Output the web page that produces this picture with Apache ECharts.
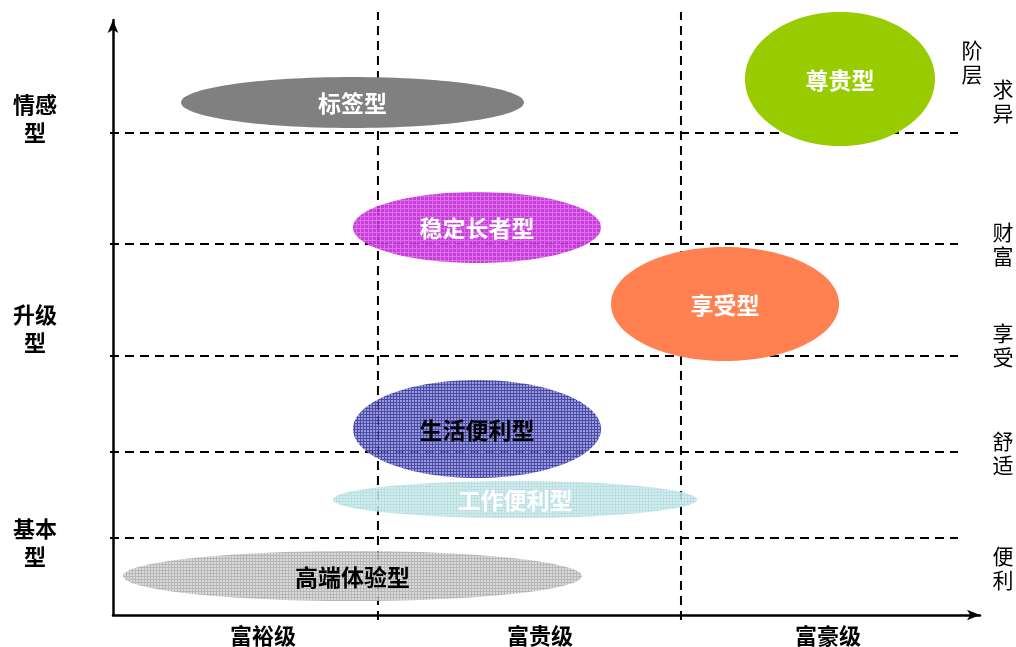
<!DOCTYPE html>
<html>
<head>
<meta charset="utf-8">
<script src="https://cdn.jsdelivr.net/npm/echarts@6/dist/echarts.min.js"></script>
<style>html,body{margin:0;padding:0;background:#fff;}#main{width:1016px;height:647px;}</style>
</head>
<body>
<div id="main"></div>
<script>
// ---- data (abstract units: x 0..100 wealth level, y 0..100 need level) ----
const typeNames = ['标签型', '尊贵型', '稳定长者型', '享受型', '生活便利型', '工作便利型', '高端体验型'];
const xFrom = [7.84, 72.89, 27.68, 57.44, 27.68, 25.37, 1.15];
const xTo   = [47.40, 94.81, 56.29, 83.74, 56.29, 67.36, 54.09];
const yFrom = [81.85, 78.82, 59.16, 42.69, 23.03, 16.30, 2.35];
const yTo   = [90.42, 101.34, 71.09, 61.85, 39.50, 22.52, 10.76];

const levelBounds = [12.94, 27.39, 43.53, 62.35, 81.0];   // horizontal dividers
const wealthBounds = [30.56, 65.51];                       // vertical dividers

const wealthLabels = ['富裕级', '富贵级', '富豪级'];
const wealthLabelX = [17.3, 49.25, 82.47];
const motiveLabels = ['情感\n型', '升级\n型', '基本\n型'];
const motiveLabelY = [83.4, 48.2, 12.1];
const needLabels = ['求\n异', '财\n富', '享\n受', '舒\n适', '便\n利'];
const needLabelY = [86.3, 62.35, 45.4, 27.2, 7.9];
const needTitle = '阶\n层';

// ---- styles ----
function pattern(bg, line, size) {
  const c = document.createElement('canvas');
  c.width = size; c.height = size;
  const g = c.getContext('2d');
  g.fillStyle = bg; g.fillRect(0, 0, size, size);
  g.fillStyle = line; g.fillRect(0, 0, size, 1); g.fillRect(0, 0, 1, size);
  return { image: c, repeat: 'repeat' };
}
const fills = [
  '#808080',
  '#99CC00',
  pattern('#C52CD8', '#D865EA', 4),
  '#FF8050',
  pattern('#8C8CD6', '#33339C', 3),
  pattern('#CFEAEC', '#B2DCE0', 3),
  pattern('#D6D6D6', '#B0B0B0', 3)
];
const opac = [1, 1, 0.92, 1, 0.88, 0.9, 0.9];
const textColors = ['#fff', '#fff', '#fff', '#fff', '#000', '#fff', '#000'];
const CJK = '"Noto Sans CJK SC", sans-serif';

const chart = echarts.init(document.getElementById('main'), null, { renderer: 'canvas' });

const lineData = [];
levelBounds.forEach(v => lineData.push([-0.35, v, 97.46, v]));
wealthBounds.forEach(v => lineData.push([v, -0.84, v, 101.34]));

const ellipseData = typeNames.map((n, i) => [xFrom[i], yFrom[i], xTo[i], yTo[i]]);

const labelData = [];
wealthLabels.forEach((t, i) => labelData.push({ value: [wealthLabelX[i], -3.53], t, k: 'b' }));
motiveLabels.forEach((t, i) => labelData.push({ value: [-9.0, motiveLabelY[i]], t, k: 'l' }));
needLabels.forEach((t, i) => labelData.push({ value: [102.65, needLabelY[i]], t, k: 'r' }));
labelData.push({ value: [99.08, 93.0], t: needTitle, k: 'r' });

chart.setOption({
  animation: false,
  backgroundColor: '#fff',
  grid: { left: 113, right: 36, top: 20, bottom: 32, containLabel: false },
  xAxis: {
    type: 'value', min: 0, max: 100,
    axisLine: { show: true, symbol: ['none', 'arrow'], symbolSize: [8, 13], lineStyle: { color: '#000', width: 2.5 } },
    axisTick: { show: false }, axisLabel: { show: false }, splitLine: { show: false }
  },
  yAxis: {
    type: 'value', min: 0, max: 100,
    axisLine: { show: true, symbol: ['none', 'arrow'], symbolSize: [8, 13], lineStyle: { color: '#000', width: 2.5 } },
    axisTick: { show: false }, axisLabel: { show: false }, splitLine: { show: false }
  },
  series: [
    {
      type: 'custom', z: 1, clip: false,
      data: lineData,
      renderItem: function (params, api) {
        const a = api.coord([api.value(0), api.value(1)]);
        const b = api.coord([api.value(2), api.value(3)]);
        return {
          type: 'line',
          shape: { x1: a[0], y1: a[1], x2: b[0], y2: b[1] },
          style: { stroke: '#000', lineWidth: 2, lineDash: [9, 6] }
        };
      }
    },
    {
      type: 'custom', z: 2, clip: false,
      data: ellipseData,
      renderItem: function (params, api) {
        const i = params.dataIndex;
        const p0 = api.coord([api.value(0), api.value(1)]);
        const p1 = api.coord([api.value(2), api.value(3)]);
        const cx = (p0[0] + p1[0]) / 2, cy = (p0[1] + p1[1]) / 2;
        const rx = Math.abs(p1[0] - p0[0]) / 2, ry = Math.abs(p1[1] - p0[1]) / 2;
        return {
          type: 'group',
          children: [
            { type: 'ellipse', shape: { cx, cy, rx, ry }, style: { fill: fills[i], opacity: opac[i] } },
            { type: 'text', x: cx, y: cy + 1, style: {
                text: typeNames[i], fill: textColors[i], fontSize: 23, fontWeight: 'bold',
                fontFamily: CJK, align: 'center', verticalAlign: 'middle' } }
          ]
        };
      }
    },
    {
      type: 'custom', z: 3, clip: false,
      data: labelData,
      renderItem: function (params, api) {
        const d = labelData[params.dataIndex];
        const p = api.coord([api.value(0), api.value(1)]);
        const bold = d.k !== 'r';
        return {
          type: 'text', x: p[0], y: p[1],
          style: {
            text: d.t, fill: '#000', fontSize: bold ? 22 : 21, fontWeight: bold ? 'bold' : 'normal',
            fontFamily: CJK, align: 'center', verticalAlign: 'middle', lineHeight: bold ? 28 : 24
          }
        };
      }
    }
  ]
});
</script>
</body>
</html>
